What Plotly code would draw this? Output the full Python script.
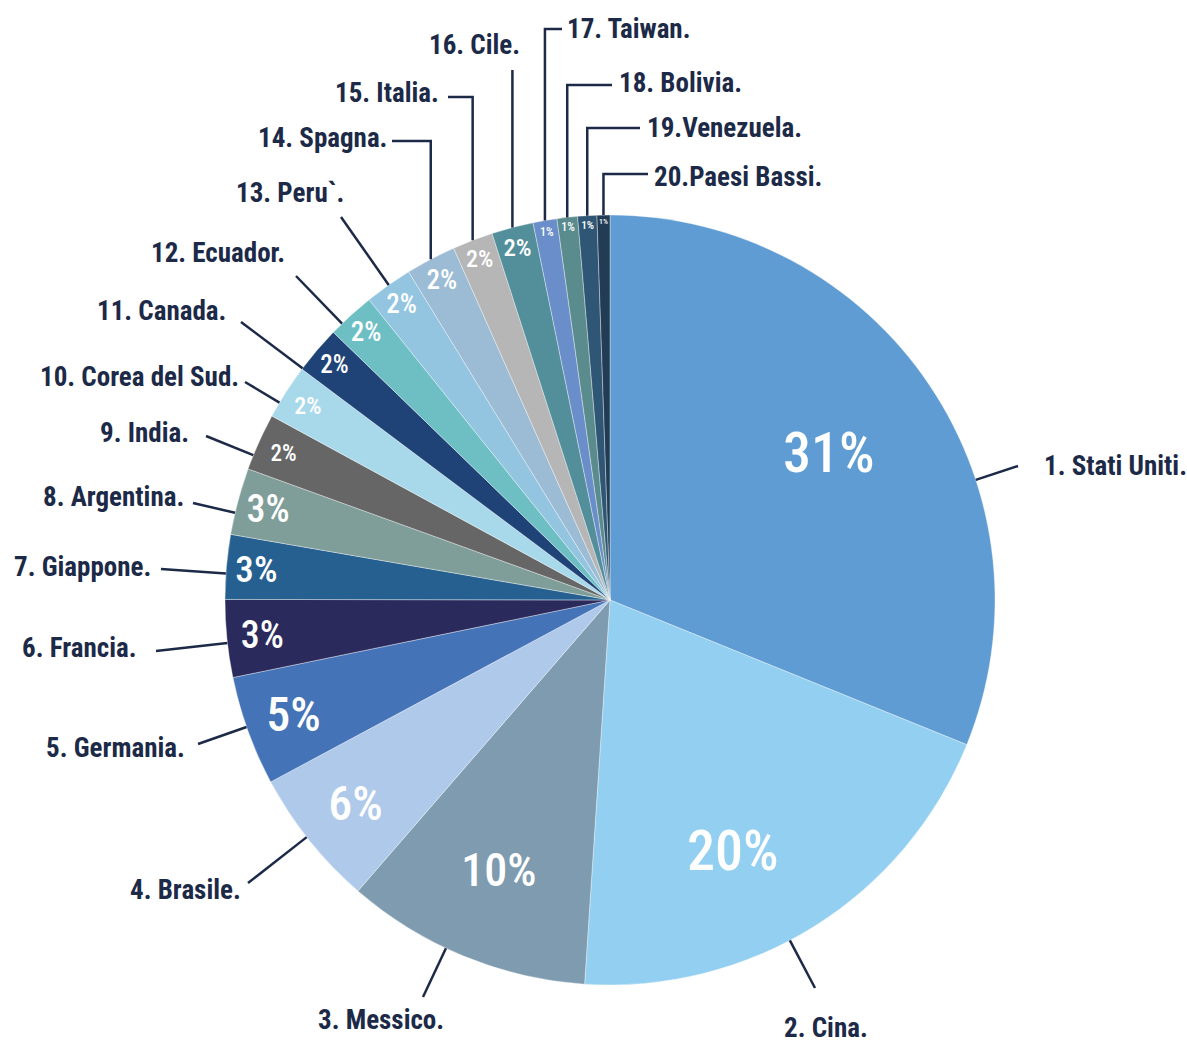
import math
import plotly.graph_objects as go

# data (share of total, %)
countries = ["Stati Uniti", "Cina", "Messico", "Brasile", "Germania", "Francia",
             "Giappone", "Argentina", "India", "Corea del Sud", "Canada", "Ecuador",
             "Peru`", "Spagna", "Italia", "Cile", "Taiwan", "Bolivia", "Venezuela",
             "Paesi Bassi"]
labels = ["1. Stati Uniti.", "2. Cina.", "3. Messico.", "4. Brasile.", "5. Germania.",
          "6. Francia.", "7. Giappone.", "8. Argentina.", "9. India.", "10. Corea del Sud.",
          "11. Canada.", "12. Ecuador.", "13. Peru`.", "14. Spagna.", "15. Italia.",
          "16. Cile.", "17. Taiwan.", "18. Bolivia.", "19.Venezuela.", "20.Paesi Bassi."]
shares = [31.1, 19.9, 10.3, 5.8, 4.6, 3.25, 2.7, 2.8, 2.4, 2.3,
          2.0, 2.0, 2.0, 2.1, 1.7, 1.75, 1.0, 0.86, 0.8, 0.54]

colors = ["#5e9cd3", "#92cff0", "#7f9bb0", "#afc9ea", "#4573b7", "#2b2a5d", "#266090",
          "#7f9e9a", "#666666", "#a8d9eb", "#204377", "#6dbfc4", "#93c5e1", "#9bbcd4",
          "#b6b6b6", "#538f9b", "#6a8ec9", "#5a8b8d", "#2f5775", "#223c56"]
pct_sizes = [56, 56, 46, 48, 48, 38, 38, 38, 23, 24, 25, 27, 27, 27, 26, 26, 12, 12, 12, 12]

W, H = 1187, 1045
CX, CY, R = 610, 600, 385
FONT = "Roboto Condensed, Liberation Sans Narrow, DejaVu Sans Condensed, sans-serif"
NAVY = "#1c2a48"

# big percentages placed by hand: slice index -> (angle shift deg, radius fraction)
big_pct = {0: (0.0, 0.685), 1: (6.0, 0.727)}

# label placement (pixels): outer end of leader line + text anchor
# kind "r" = straight radial line, "e" = elbow (vertical up from slice then horizontal)
label_layout = [
    ("r", (1018, 466), (1042, 466), "left"),
    ("r", (815, 988), (826, 1028), "center"),
    ("r", (423, 997), (381, 1020), "center"),
    ("r", (248, 883), (243, 890), "right"),
    ("r", (198, 744), (187, 748), "right"),
    ("r", (156, 651), (139, 648), "right"),
    ("r", (161, 569), (153, 567), "right"),
    ("r", (193, 503), (186, 497), "right"),
    ("r", (206, 436), (191, 433), "right"),
    ("r", (245, 382), (241, 377), "right"),
    ("r", (241, 322), (228, 311), "right"),
    ("r", (296, 276), (287, 253), "right"),
    ("r", (341, 217), (346, 193), "right"),
    ("e", (392, 141), (389, 138), "right"),
    ("e", (448, 97), (441, 93), "right"),
    ("e", (None, 70), (474, 45), "center"),
    ("e", (562, 29), (565, 29), "left"),
    ("e", (612, 85), (617, 83), "left"),
    ("e", (640, 128), (645, 128), "left"),
    ("e", (648, 174), (652, 177), "left"),
]


def px(x):
    return x / W


def py(y):
    return 1 - y / H


templates = ["" if i in big_pct else "%{percent:.0%}" for i in range(len(shares))]

fig = go.Figure(go.Pie(
    labels=countries,
    values=shares,
    sort=False,
    direction="clockwise",
    rotation=0,
    marker=dict(colors=colors, line=dict(color="rgba(255,255,255,0.6)", width=0.6)),
    texttemplate=templates,
    textposition="inside",
    insidetextorientation="horizontal",
    textfont=dict(family=FONT, size=pct_sizes, color="white", weight=500),
    hoverinfo="label+percent",
    domain=dict(x=[px(CX - R), px(CX + R)], y=[py(CY + R), py(CY - R)]),
))

# mid angle of each slice (degrees clockwise from 12 o'clock)
total = sum(shares)
mids = []
acc = 0.0
for v in shares:
    mids.append((acc + v / 2) / total * 360)
    acc += v

shapes = []
annotations = []
line_style = dict(color=NAVY, width=2.5)

for i, (shift, frac) in big_pct.items():
    a = math.radians(mids[i] + shift)
    annotations.append(dict(
        x=px(CX + frac * R * math.sin(a)), y=py(CY - frac * R * math.cos(a)),
        xref="paper", yref="paper", showarrow=False,
        xanchor="center", yanchor="middle",
        text=f"{round(shares[i] / total * 100)}%",
        font=dict(family=FONT, size=pct_sizes[i], color="white", weight=500),
    ))

for i, (kind, outer, txt, anchor) in enumerate(label_layout):
    if kind == "r":
        ox, oy = outer
        d = math.hypot(ox - CX, oy - CY)
        ix = CX + R * (ox - CX) / d
        iy = CY + R * (oy - CY) / d
        shapes.append(dict(type="line", xref="paper", yref="paper",
                           x0=px(ix), y0=py(iy), x1=px(ox), y1=py(oy), line=line_style))
    else:
        a = math.radians(mids[i])
        vx = CX + R * math.sin(a)
        vy = CY - R * math.cos(a)
        hx, hy = outer
        path = f"M {px(vx)},{py(vy)} L {px(vx)},{py(hy)}"
        if hx is not None:
            path += f" L {px(hx)},{py(hy)}"
        shapes.append(dict(type="path", xref="paper", yref="paper", path=path,
                           line=line_style))
    annotations.append(dict(
        x=px(txt[0]), y=py(txt[1]), xref="paper", yref="paper",
        text=labels[i], showarrow=False, xanchor=anchor, yanchor="middle",
        font=dict(family=FONT, size=27, color=NAVY, weight="bold"),
    ))

fig.update_layout(
    width=W, height=H, autosize=False,
    margin=dict(l=0, r=0, t=0, b=0),
    paper_bgcolor="white", plot_bgcolor="white",
    showlegend=False,
    shapes=shapes, annotations=annotations,
)

fig.write_html("out.html", config={"displayModeBar": False},
               post_script="document.body.style.margin='0px';")
